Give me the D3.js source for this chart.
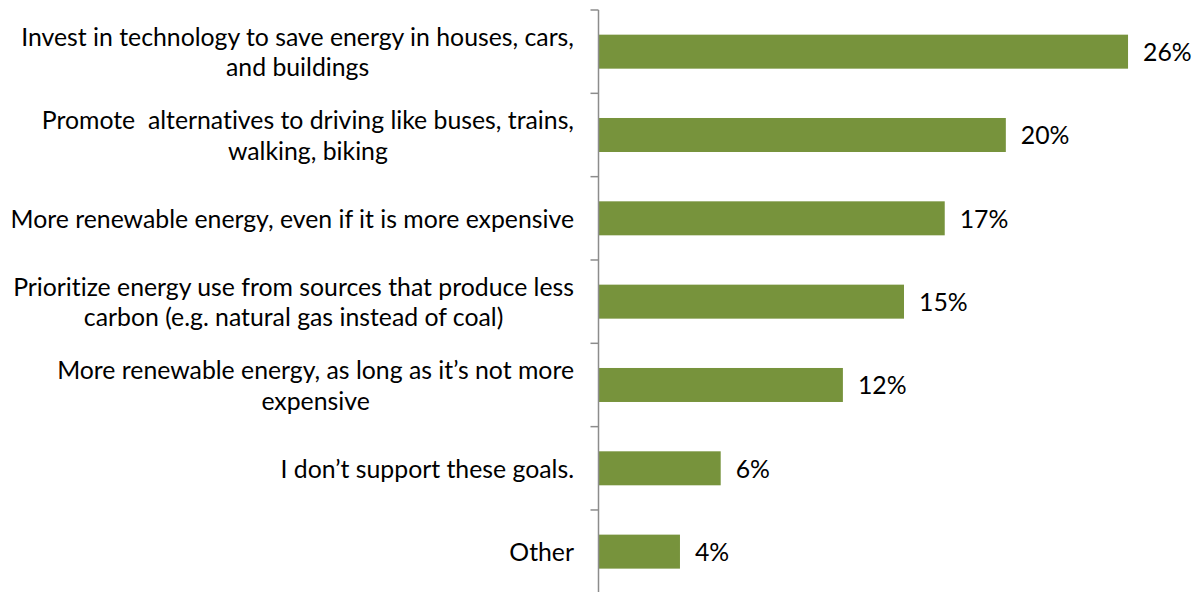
<!DOCTYPE html>
<html>
<head>
<meta charset="utf-8">
<script src="https://cdn.jsdelivr.net/npm/d3@7"></script>
<style>
  html, body { margin: 0; padding: 0; background: #fff; }
  svg { display: block; }
  text { font-family: "Lato", "Open Sans", sans-serif; fill: #000; white-space: pre; font-variant-ligatures: none; font-feature-settings: "liga" 0; }
</style>
</head>
<body>
<svg id="chart" width="1193" height="592"></svg>
<script>
// Survey responses: preferred ways to reach climate goals (share of respondents)
const categories = [
  "Invest in technology to save energy in houses, cars, and buildings",
  "Promote  alternatives to driving like buses, trains, walking, biking",
  "More renewable energy, even if it is more expensive",
  "Prioritize energy use from sources that produce less carbon (e.g. natural gas instead of coal)",
  "More renewable energy, as long as it’s not more expensive",
  "I don’t support these goals.",
  "Other"
];
// Label lines for each category, as they wrap
const labelLines = [
  ["Invest in technology to save energy in houses, cars,", "and buildings"],
  ["Promote  alternatives to driving like buses, trains,", "walking, biking"],
  ["More renewable energy, even if it is more expensive"],
  ["Prioritize energy use from sources that produce less", "carbon (e.g. natural gas instead of coal)"],
  ["More renewable energy, as long as it’s not more", "expensive"],
  ["I don’t support these goals."],
  ["Other"]
];
const values = [0.26, 0.20, 0.17, 0.15, 0.12, 0.06, 0.04];

const svg = d3.select("#chart");
const axisX = 598.5;
const labelRight = 574;
const barColor = "#77933C";
const axisColor = "#8C8C8C";

const x = d3.scaleLinear().domain([0, 0.30]).range([axisX, axisX + 611]);
const y = d3.scaleBand()
  .domain(categories)
  .range([10, 593.3])
  .paddingInner(0.592)
  .paddingOuter(0.296);

// Fit the label font so the longest line spans the label column
const probe = svg.append("text").attr("font-size", 24).text(labelLines[0][0]);
const probeW = probe.node().getComputedTextLength();
probe.remove();
const fontSize = Math.min(26, 24 * 553 / probeW);
const lineH = fontSize * 1.22;

// Bars
svg.append("g").selectAll("rect")
  .data(categories)
  .join("rect")
  .attr("x", x(0))
  .attr("y", d => y(d))
  .attr("width", (d, i) => x(values[i]) - x(0))
  .attr("height", y.bandwidth())
  .attr("fill", barColor);

// Category axis: vertical line with tick marks at band boundaries
const axis = d3.axisLeft(y).tickSize(0).tickFormat("");
const gAxis = svg.append("g").attr("transform", `translate(${axisX},0)`).call(axis);
gAxis.select(".domain").attr("stroke", axisColor).attr("stroke-width", 1.5)
  .attr("d", `M0,10V592`);
gAxis.selectAll(".tick").remove();
const step = y.step();
const boundaries = d3.range(categories.length + 1).map(i => y.range()[0] + i * step);
gAxis.selectAll("line.bound")
  .data(boundaries)
  .join("line")
  .attr("class", "bound")
  .attr("x1", -8).attr("x2", 0)
  .attr("y1", d => d).attr("y2", d => d)
  .attr("stroke", axisColor).attr("stroke-width", 1.5);

// Category labels: each block right-aligned to the column, lines centred within it
const gLab = svg.append("g");
categories.forEach((c, i) => {
  const lines = labelLines[i];
  const cy = y(c) + y.bandwidth() / 2;
  const g = gLab.append("g");
  const texts = lines.map((ln, j) => g.append("text")
    .attr("font-size", fontSize)
    .attr("text-anchor", "middle")
    .attr("dominant-baseline", "central")
    .attr("y", cy + (j - (lines.length - 1) / 2) * lineH)
    .text(ln));
  const maxW = d3.max(texts, t => t.node().getComputedTextLength());
  texts.forEach(t => t.attr("x", labelRight - maxW / 2));
});

// Value labels
svg.append("g").selectAll("text")
  .data(categories)
  .join("text")
  .attr("font-size", fontSize)
  .attr("dominant-baseline", "central")
  .attr("x", (d, i) => x(values[i]) + 15)
  .attr("y", d => y(d) + y.bandwidth() / 2)
  .text((d, i) => d3.format(".0%")(values[i]));
</script>
</body>
</html>
